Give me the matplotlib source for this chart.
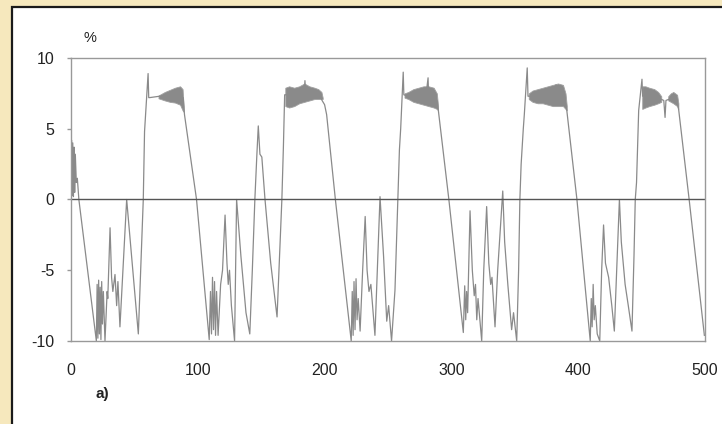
import matplotlib
matplotlib.use('Agg')
import matplotlib.pyplot as plt
from matplotlib.patches import Rectangle

plt.rcParams['font.family'] = ['Liberation Sans', 'DejaVu Sans']
plt.rcParams['axes.unicode_minus'] = False

# main trace (t, %)
t = [0, 0.4, 0.9, 1.4, 1.9, 2.4, 2.9, 3.4, 4.2, 5.0, 6.2, 20,
     20.6, 21.2, 21.8, 22.4, 23.0, 23.6, 24.2, 24.8, 25.5, 26.8, 28.5, 29, 30.8, 32, 33, 34.7, 36, 37, 38.6,
     43.9, 53.1, 57, 58, 60.8, 61.3,
     62, 66, 70, 75, 80, 85, 88.5, 89.5, 99, 109,
     110, 110.8, 111.6, 112.4, 113.2, 114, 114.8, 116, 118, 119.5, 121.5, 123, 124, 125, 126.5, 129, 130.6,
     134, 138, 141, 143, 145, 146.5, 147.7, 149, 150.5, 153, 157.5, 162.5, 166.3, 167.5, 168.5,
     172, 176, 180, 184, 184.5, 185, 188, 192, 196, 198, 200, 201.6, 208.5, 221,
     221.8, 222.5, 223.2, 224, 224.8, 225.6, 226.5, 228, 230, 232, 233.5, 235, 236.5, 239.7, 243.7, 246.5,
     249, 250.5, 252.8, 255.5, 258, 259, 260, 262, 262.5,
     266, 270, 275, 280, 281.6, 282, 286, 288.5, 289.7, 298, 309.4,
     310.5, 311.3, 312, 312.8, 314.7, 316.5, 318, 319, 320, 321, 323.9, 325.5, 327.8, 329.5, 331, 332, 334.4,
     336.5, 340.5, 342, 344.5, 347.5, 349, 351.5, 353, 354, 355, 356.7, 357.5, 359.8, 360.4,
     364, 370, 376, 382, 382.5, 383, 386, 389, 391, 399, 409.5,
     410.3, 411, 411.8, 412.6, 413.5, 415, 417, 418.5, 420, 421.5, 424, 426.5, 428.5, 432.5, 434, 437,
     439.5, 442.4, 444, 445, 446, 447.7, 450.3, 450.8,
     454, 458, 462, 465, 467.5, 468.5, 469.2, 472, 476, 478, 479.3, 487.5, 499.5]
v = [0.2, 4.2, 0.3, 4.0, 0.2, 3.7, 0.5, 3.2, 1.2, 1.5, 0.0, -10,
     -6.0, -9.8, -5.7, -9.5, -6.2, -9.9, -5.8, -8.8, -6.5, -10, -6.5, -7, -2.0, -5.5, -6.5, -5.3, -7.5, -5.8, -9,
     0, -9.5, 0, 4.8, 8.9, 7.2,
     7.2, 7.25, 7.3, 7.35, 7.4, 7.45, 7.2, 6.0, 0, -9.9,
     -6.5, -9.5, -5.5, -9.2, -5.8, -9.6, -6.5, -9.6, -6, -5, -1.1, -4.5, -6, -5, -7.5, -10, 0,
     -4, -8, -9.5, -5, 0, 3, 5.2, 3.2, 3.0, 0, -4.5, -8.3, 0, 3.7, 7.4,
     7.4, 7.5, 7.5, 7.6, 8.4, 7.6, 7.5, 7.5, 7.4, 7.0, 6.7, 6.0, 0, -10,
     -6.5, -9.6, -5.8, -9.2, -5.6, -8.5, -7, -9.3, -5, -1.2, -5, -6.5, -6, -9.6, 0.2, -4,
     -8.6, -7.5, -10, -6.4, 0.6, 3.5, 5, 9.0, 7.4,
     7.3, 7.3, 7.35, 7.4, 8.6, 7.4, 7.3, 7.0, 6.3, 0, -9.4,
     -6.1, -8.5, -6.5, -8, -0.8, -5, -6.8, -6, -8.5, -7, -10, -5, -0.5, -4.5, -6, -5.5, -9,
     -5, 0.6, -3, -6, -9.2, -8, -10, -5, 0, 2.5, 5.0, 6, 9.3, 7.3,
     7.3, 7.35, 7.4, 7.5, 8.1, 7.5, 7.4, 7.1, 6.3, 0, -10,
     -7, -9, -6, -8.5, -7.5, -9.5, -10, -5, -1.8, -4.5, -5.5, -7.5, -9.3, 0, -3, -6,
     -7.5, -9.3, -4, 0, 1.2, 6.3, 8.5, 7.3,
     7.4, 7.4, 7.3, 7.1, 7.0, 5.8, 7.0, 7.1, 7.2, 7.0, 6.3, 0, -9.6]

# dense noise on the plateaus: upper / lower envelope
band_t = [[69, 74, 78, 82, 86, 88, 88.8],
          [169, 172, 176, 180, 184, 188, 192, 195, 197.5, 198.5],
          [263, 266, 270, 274, 278, 282, 286, 288.5, 289.5],
          [361, 364, 368, 372, 376, 380, 384, 388, 390, 391],
          [450.5, 453, 456, 460, 463, 465.5],
          [471, 473, 475, 478, 479]]
band_hi = [[7.35, 7.6, 7.75, 7.9, 8.0, 7.8, 6.6],
           [7.9, 8.0, 7.9, 8.0, 8.2, 8.0, 7.9, 7.8, 7.6, 7.2],
           [7.5, 7.6, 7.8, 7.9, 8.0, 8.0, 7.9, 7.5, 6.6],
           [7.5, 7.7, 7.8, 7.9, 8.0, 8.1, 8.2, 8.1, 7.5, 6.6],
           [8.0, 8.0, 7.9, 7.8, 7.6, 7.3],
           [7.3, 7.5, 7.6, 7.4, 6.8]]
band_lo = [[7.15, 7.0, 6.9, 6.85, 6.7, 6.3, 6.2],
           [6.6, 6.5, 6.6, 6.8, 6.9, 7.0, 7.1, 7.1, 7.1, 7.1],
           [7.2, 7.1, 6.9, 6.8, 6.7, 6.6, 6.5, 6.4, 6.3],
           [7.1, 6.9, 6.8, 6.8, 6.7, 6.6, 6.6, 6.6, 6.4, 6.3],
           [6.4, 6.5, 6.6, 6.7, 6.8, 6.9],
           [7.0, 6.9, 6.8, 6.6, 6.4]]

x_ticks = [0, 100, 200, 300, 400, 500]
y_ticks = [-10, -5, 0, 5, 10]

fig = plt.figure(figsize=(7.22, 4.24), dpi=100)
fig.patch.set_facecolor('#F6E8BD')

# white panel with a dark frame
panel = Rectangle((12 / 722, -0.05), 1.0, 1 - 7 / 424 + 0.05, transform=fig.transFigure,
                  facecolor='white', edgecolor='#1a1a1a', lw=1.6, zorder=-1)
fig.patches.append(panel)

ax = fig.add_axes([71 / 722, 1 - 341 / 424, 634 / 722, 283 / 424])
ax.set_facecolor('white')

for bt, bh, bl in zip(band_t, band_hi, band_lo):
    ax.fill_between(bt, bl, bh, color='#8a8a8a', lw=0.6, edgecolor='#a0a0a0')
ax.plot(t, v, color='#8a8a8a', lw=0.9)
ax.axhline(0, color='#555555', lw=1.0)

ax.set_xlim(0, 500)
ax.set_ylim(-10, 10)
ax.set_xticks(x_ticks)
ax.set_yticks(y_ticks)
ax.set_yticklabels([str(y) for y in y_ticks])
ax.tick_params(axis='y', length=3, width=1, color='#999999', pad=9,
               labelsize=11.5, labelcolor='#222222')
ax.tick_params(axis='x', length=0, pad=16, labelsize=11.5, labelcolor='#222222')
for s in ax.spines.values():
    s.set_color('#999999')
    s.set_linewidth(1.0)

fig.text(90 / 722, 1 - 38 / 424, '%', ha='center', va='center', fontsize=10.5, color='#222222')
fig.text(102 / 722, 1 - 394 / 424, 'a)', ha='center', va='center', fontsize=11,
         color='#222222', fontweight='bold')

fig.savefig('out.png', dpi=100, facecolor=fig.get_facecolor())
